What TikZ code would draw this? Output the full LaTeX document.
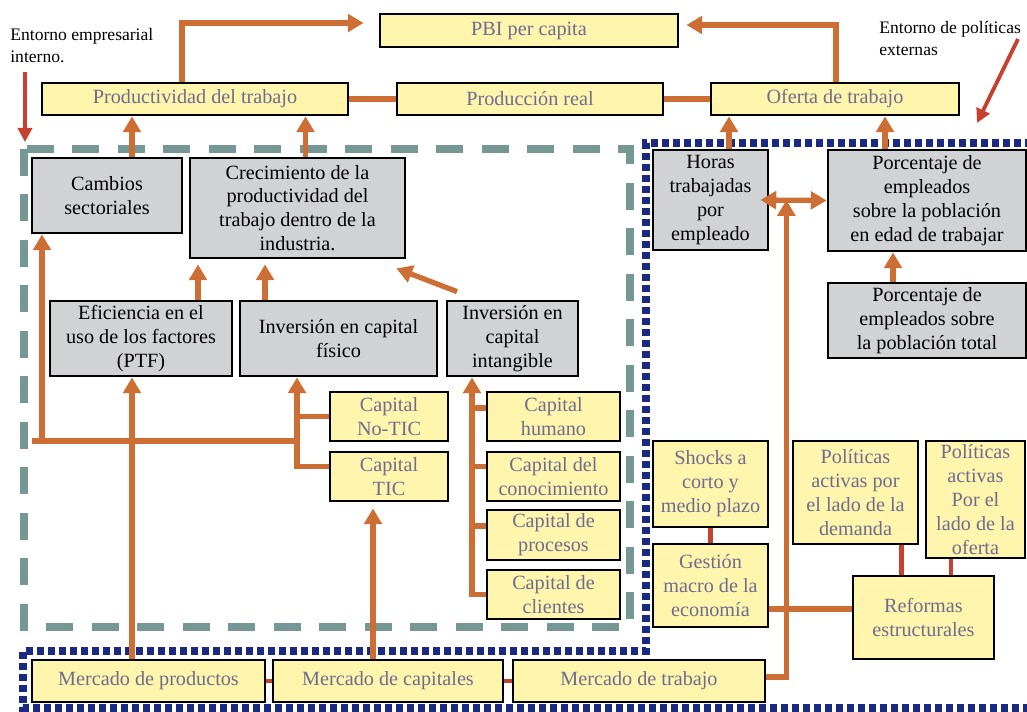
\documentclass[tikz,border=0pt]{standalone}
\usepackage{fontspec}
\setmainfont{Liberation Serif}
\usetikzlibrary{arrows.meta,positioning}

\definecolor{naranja}{RGB}{205,110,53}
\definecolor{rojo}{RGB}{200,65,46}
\definecolor{amarillo}{RGB}{255,245,173}
\definecolor{gris}{RGB}{209,210,212}
\definecolor{textoazul}{RGB}{109,109,143}
\definecolor{verde}{RGB}{118,152,148}
\definecolor{azul}{RGB}{26,42,130}

\tikzset{
  caja/.style={draw=black, line width=1.6pt, align=center, inner sep=1pt,
    font=\fontsize{11.5}{13.6}\selectfont},
  amar/.style={caja, fill=amarillo, text=textoazul},
  gr/.style={caja, fill=gris, text=black},
  tam/.style 2 args={minimum width=#1*0.02cm, minimum height=#2*0.02cm},
  linea/.style={draw=naranja, line width=3pt},
  arr/.style={linea, -{Triangle[width=10pt,length=9pt]}},
  arrdoble/.style={linea, {Triangle[width=10pt,length=9pt]}-{Triangle[width=10pt,length=9pt]}},
  rlinea/.style={draw=rojo, line width=2.6pt},
  rarr/.style={draw=rojo, line width=2.2pt, -{Triangle[width=8pt,length=8pt]}},
  nota/.style={anchor=north west, align=left, inner sep=0pt,
    font=\fontsize{10}{12.5}\selectfont}
}

\begin{document}
\begin{tikzpicture}[x=0.02cm, y=-0.02cm]
  \useasboundingbox (0,0) rectangle (1027,711);

  % Entornos
  \draw[verde, line width=4.7pt, dash pattern=on 0.54cm off 0.37cm] (24,149) rectangle (630,627);
  \draw[azul, line width=4.5pt, dash pattern=on 0.15cm off 0.07cm]
    (1032,143) -- (646,143) -- (646,651) -- (23,651) -- (23,708) -- (1032,708);

  \node[nota] (entint) at (10,28) {Entorno empresarial\\interno.};
  \node[nota] (entext) at (879,21) {Entorno de políticas\\externas};
  \coordinate (intini) at (25,72);
  \coordinate (intfin) at (25,142);
  \coordinate (extini) at (1018,39);
  \coordinate (extfin) at (977,123);
  \draw[rarr] (intini) -- (intfin);
  \draw[rarr] (extini) -- (extfin);

  % Fila superior
  \node[amar, tam={298}{33}] (pbi) at (529,30.5) {PBI per capita};
  \node[amar, tam={306}{32}] (prod) at (195,99) {Productividad del trabajo};
  \node[amar, tam={266}{32}] (preal) at (530,99) {Producción real};
  \node[amar, tam={248}{32}] (oferta) at (835,99) {Oferta de trabajo};

  % Entorno empresarial
  \node[gr, tam={150}{75}] (cambios) at (107,195.5) {Cambios\\sectoriales};
  \node[gr, tam={215}{100}] (crec) at (297.5,208) {Crecimiento de la\\productividad del\\trabajo dentro de la\\industria.};
  \node[gr, tam={182}{75}] (efic) at (141,338.5) {Eficiencia en el\\uso de los factores\\(PTF)};
  \node[gr, tam={197}{75}] (invfis) at (338.5,338.5) {Inversión en capital\\físico};
  \node[gr, tam={131}{75}] (invint) at (512.5,338.5) {Inversión en\\capital\\intangible};

  \node[amar, tam={118}{49}] (notic) at (389,416.5) {Capital\\No-TIC};
  \node[amar, tam={118}{49}] (tic) at (389,476.5) {Capital\\TIC};
  \node[amar, tam={133}{49}] (humano) at (553.5,416.5) {Capital\\humano};
  \node[amar, tam={133}{49}] (conoc) at (553.5,476.5) {Capital del\\conocimiento};
  \node[amar, tam={133}{50}] (procesos) at (553.5,535) {Capital de\\procesos};
  \node[amar, tam={133}{49}] (clientes) at (553.5,594.5) {Capital de\\clientes};

  % Entorno de politicas
  \node[gr, tam={115}{100}] (horas) at (710.5,200) {Horas\\trabajadas\\por\\empleado};
  \node[gr, tam={198}{101}] (pedad) at (927,200.5) {Porcentaje de\\empleados\\sobre la población\\en edad de trabajar};
  \node[gr, tam={198}{75}] (ptotal) at (927,320.5) {Porcentaje de\\empleados sobre\\la población total};

  \node[amar, tam={115}{86}] (shocks) at (710.5,484) {Shocks a\\corto y\\medio plazo};
  \node[amar, tam={115}{83}] (gestion) at (710.5,585.5) {Gestión\\macro de la\\economía};
  \node[amar, tam={125}{103}] (pdem) at (855.5,492.5) {Políticas\\activas por\\el lado de la\\demanda};
  \node[amar, tam={99}{117}] (pofe) at (975.5,499.5) {Políticas\\activas\\Por el\\lado de la\\oferta};
  \node[amar, tam={141}{83}] (reformas) at (923.5,617.5) {Reformas\\estructurales};

  % Mercados
  \node[amar, tam={233}{42}] (mprod) at (148.5,681) {Mercado de productos};
  \node[amar, tam={230}{42}] (mcap) at (388,681) {Mercado de capitales};
  \node[amar, tam={252}{42}] (mtrab) at (639,681) {Mercado de trabajo};

  % Conexiones superiores
  \draw[arr] ([xshift=-0.26cm]prod.north) |- ([xshift=-0.3cm,yshift=0.15cm]pbi.west);
  \draw[arr] ([xshift=0.02cm]oferta.north) |- ([xshift=0.14cm,yshift=0.11cm]pbi.east);
  \draw[linea] (prod) -- (preal);
  \draw[linea] (preal) -- (oferta);

  \draw[arr] ([xshift=0.5cm]cambios.north) -- ([xshift=0.5cm]cambios.north |- prod.south);
  \draw[arr] ([xshift=0.16cm]crec.north) -- ([xshift=0.16cm]crec.north |- prod.south);
  \draw[arr] ([xshift=1.14cm]efic.north) -- ([xshift=1.14cm,yshift=-0.1cm]efic.north |- crec.south);
  \draw[arr] ([xshift=-1.47cm]invfis.north) -- ([xshift=-1.47cm,yshift=-0.1cm]invfis.north |- crec.south);
  \draw[arr] ([xshift=-1.11cm,yshift=0.16cm]invint.north) -- ([xshift=-0.2cm,yshift=-0.18cm]crec.south east);

  % Arbol capital fisico
  \coordinate (ltree) at (32,441);
  \coordinate (ftree) at ([xshift=-0.83cm]invfis.south |- ltree);
  \draw[linea] (ltree) -- (ftree);
  \draw[arr] ([xshift=-1.3cm]cambios.south |- ltree) -- ([xshift=-1.3cm]cambios.south);
  \draw[arr] ([yshift=0.2cm]tic.west) -| (ftree) -- ([xshift=-0.83cm]invfis.south);
  \draw[linea] (notic.west) -- (notic.west -| ftree);

  % Arbol capital intangible
  \coordinate (itree) at ([xshift=-0.81cm]invint.south);
  \draw[arr] (clientes.west) -| (itree);
  \draw[linea] ([yshift=0.17cm]humano.west) -- ([yshift=0.17cm]humano.west -| itree);
  \draw[linea] ([yshift=0.2cm]conoc.west) -- ([yshift=0.2cm]conoc.west -| itree);
  \draw[linea] ([yshift=0.18cm]procesos.west) -- ([yshift=0.18cm]procesos.west -| itree);

  % Mercados
  \draw[arr] ([xshift=-0.33cm]mprod.north) -- ([xshift=-0.33cm]mprod.north |- efic.south);
  \draw[arr] ([xshift=-0.3cm]mcap.north) -- ([xshift=-0.3cm,yshift=-0.12cm]mcap.north |- tic.south);
  \coordinate (hcruce) at ([xshift=0.34cm]horas.east);
  \draw[arr] ([yshift=0.08cm]mtrab.east) -| (hcruce);
  \draw[arrdoble] ([xshift=-0.18cm]horas.east) -- (pedad.west);
  \draw[rlinea] (mprod) -- (mcap);
  \draw[rlinea] (mcap) -- (mtrab);

  % Oferta de trabajo
  \draw[arr] ([xshift=0.37cm]horas.north) -- ([xshift=0.37cm]horas.north |- oferta.south);
  \draw[arr] ([xshift=-0.84cm]pedad.north) -- ([xshift=-0.84cm]pedad.north |- oferta.south);
  \draw[arr] ([xshift=-0.68cm]ptotal.north) -- ([xshift=-0.68cm]ptotal.north |- pedad.south);

  % Politicas
  \draw[linea] ([yshift=-0.47cm]gestion.east) -- ([yshift=-0.47cm]gestion.east -| reformas.west);
  \draw[rlinea] (shocks) -- (gestion);
  \draw[rlinea] ([xshift=0.92cm]pdem.south) -- ([xshift=0.92cm]pdem.south |- reformas.north);
  \draw[rlinea] ([xshift=-0.49cm]pofe.south) -- ([xshift=-0.49cm]pofe.south |- reformas.north);

\end{tikzpicture}
\end{document}
